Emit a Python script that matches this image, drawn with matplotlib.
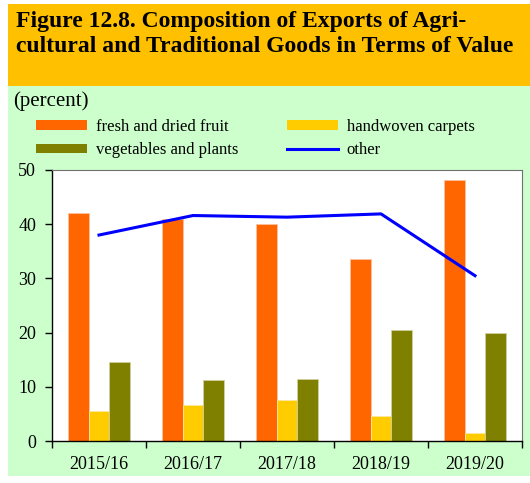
import matplotlib
matplotlib.use('Agg')
import matplotlib.pyplot as plt
import numpy as np
from matplotlib.patches import Rectangle, Patch
from matplotlib.lines import Line2D

plt.rcParams['font.family'] = ['Liberation Serif', 'DejaVu Serif']

#%% data
years = ['2015/16', '2016/17', '2017/18', '2018/19', '2019/20']
fruit = [42.0, 40.9, 40.0, 33.5, 48.2]
carpets = [5.6, 6.6, 7.5, 4.7, 1.5]
vegetables = [14.5, 11.2, 11.5, 20.4, 19.9]
other = [38.0, 41.6, 41.3, 41.9, 30.5]

W, H = 530, 483
fig = plt.figure(figsize=(W / 100, H / 100), dpi=100)
fig.patch.set_facecolor('white')

# background bands
fig.patches.append(Rectangle((8 / W, 1 - 86 / H), 1, 82 / H, transform=fig.transFigure,
                             facecolor='#FFC000', edgecolor='none', zorder=-5))
fig.patches.append(Rectangle((8 / W, 1 - 476 / H), 1, 390 / H, transform=fig.transFigure,
                             facecolor='#CCFFCC', edgecolor='none', zorder=-5))

fig.text(16 / W, 1 - 11 / H,
         'Figure 12.8. Composition of Exports of Agri-\ncultural and Traditional Goods in Terms of Value',
         fontsize=17, fontweight='bold', va='top', ha='left', linespacing=1.22)
fig.text(13 / W, 1 - 101 / H, '(percent)', fontsize=15, va='center', ha='left')

ax = fig.add_axes([52 / W, 1 - 441 / H, 470 / W, 271 / H])
ax.set_facecolor('white')

x = np.arange(len(years))
bw = 0.223
ax.bar(x - bw, fruit, bw, color='#FF6600', edgecolor='#FFC0A0', linewidth=0.6)
ax.bar(x, carpets, bw, color='#FFCC00', edgecolor='#FFE8A0', linewidth=0.6)
ax.bar(x + bw, vegetables, bw, color='#808000', edgecolor='#D0D0A0', linewidth=0.6)
ax.plot(x, other, color='#0000FF', linewidth=2.2)

ax.set_xlim(-0.5, len(years) - 0.5)
ax.set_ylim(0, 50)
ax.set_yticks([0, 10, 20, 30, 40, 50])
ax.set_xticks(x)
ax.set_xticklabels(years)
ax.set_xticks(np.arange(len(years) + 1) - 0.5, minor=True)
ax.tick_params(axis='x', which='major', length=0, labelsize=13, pad=11)
ax.tick_params(axis='x', which='minor', length=5, direction='out', width=1)
ax.tick_params(axis='y', length=5, direction='out', labelsize=13, pad=6.5, width=1)
for s in ['top', 'right']:
    ax.spines[s].set_color('#707070')
    ax.spines[s].set_linewidth(0.8)
for s in ['left', 'bottom']:
    ax.spines[s].set_color('black')
    ax.spines[s].set_linewidth(1.0)

handles = [Patch(facecolor='#FF6600', edgecolor='none'),
           Patch(facecolor='#808000', edgecolor='none'),
           Patch(facecolor='#FFCC00', edgecolor='none'),
           Line2D([], [], color='#0000FF', linewidth=2.2)]
labels = ['fresh and dried fruit', 'vegetables and plants',
          'handwoven carpets', 'other']
fig.legend(handles, labels, loc='upper left', bbox_to_anchor=(21 / W, 1 - 104 / H),
           ncol=2, frameon=False, fontsize=12, handlelength=3.05, handleheight=0.5,
           handletextpad=0.55, columnspacing=2.9, labelspacing=0.45)

fig.savefig('out.png', dpi=100)
